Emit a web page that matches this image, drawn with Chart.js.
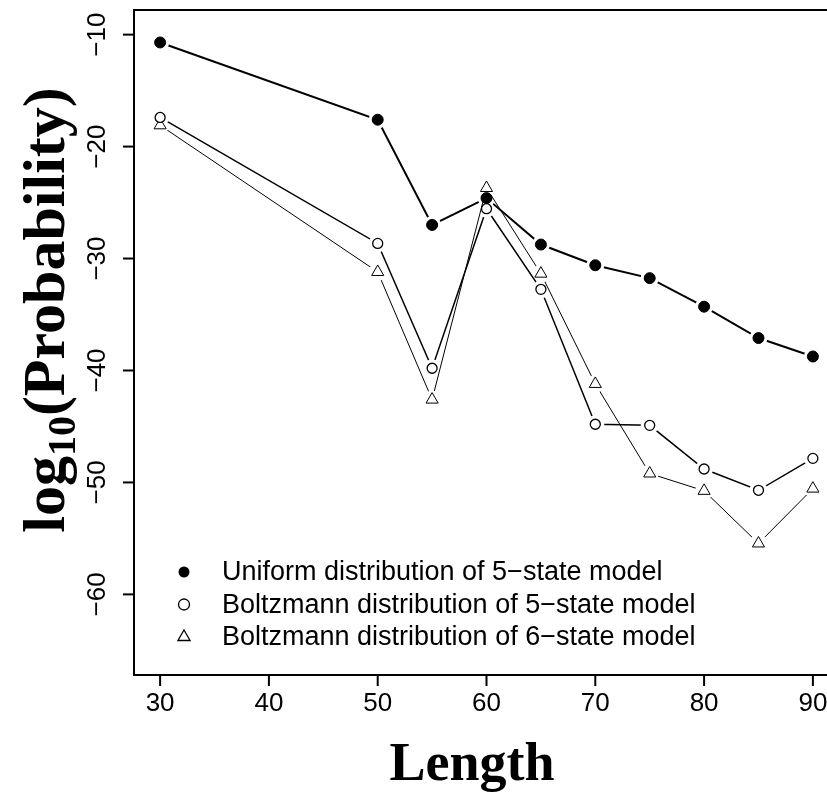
<!DOCTYPE html>
<html>
<head>
<meta charset="utf-8">
<title>log10(Probability) vs Length</title>
<script src="https://cdn.jsdelivr.net/npm/chart.js@4/dist/chart.umd.min.js"></script>
<style>
    html, body { margin: 0; padding: 0; background: #fff; overflow: hidden; }
    #chartWrap { width: 827px; height: 792px; overflow: hidden; position: relative; }
    #probChart { position: absolute; left: 0; top: 0; }
</style>
</head>
<body>
<div id="chartWrap"><canvas id="probChart" width="850" height="792"></canvas></div>
<script>
// Datos
const lengths = [30, 50, 55, 60, 65, 70, 75, 80, 85, 90];
const uniform5 = [-10.7, -17.6, -27.0, -24.6, -28.75, -30.6, -31.75, -34.3, -37.1, -38.75];
const boltzmann5 = [-17.4, -28.65, -39.8, -25.55, -32.75, -44.8, -44.9, -48.8, -50.7, -47.85];
const boltzmann6 = [-18.1, -31.2, -42.6, -23.7, -31.35, -41.2, -49.2, -50.75, -55.45, -50.55];

const xTicks = [30, 40, 50, 60, 70, 80, 90];
const yTicks = [-10, -20, -30, -40, -50, -60];
const legendLabels = [
    'Uniform distribution of 5\u2212state model',
    'Boltzmann distribution of 5\u2212state model',
    'Boltzmann distribution of 6\u2212state model'
];

const sansFont = '"Liberation Sans", Arial, sans-serif';
const serifFont = '"Liberation Serif", "Times New Roman", serif';

function toPoints(values) {
    return lengths.map((x, i) => ({ x: x, y: values[i] }));
}

// Línea con huecos alrededor de cada punto (estilo type="b")
function lineSet(values, width) {
    return {
        data: toPoints(values),
        borderColor: '#000',
        borderWidth: width,
        pointRadius: 0,
        tension: 0,
        fill: false,
        gapRadius: 9,
        order: 2
    };
}

function pointSet(values, style, radius, fillColor, borderWidth) {
    return {
        data: toPoints(values),
        showLine: false,
        pointStyle: style,
        pointRadius: radius,
        pointBackgroundColor: fillColor,
        pointBorderColor: '#000',
        pointBorderWidth: borderWidth,
        order: 1
    };
}

// Recorta la línea alrededor de sus propios puntos
const gapPlugin = {
    id: 'gapPlugin',
    beforeDatasetDraw(chart, args) {
        const ds = chart.data.datasets[args.index];
        if (!ds.gapRadius) return;
        const ctx = chart.ctx;
        const r = ds.gapRadius;
        ctx.save();
        ctx.beginPath();
        ctx.rect(0, 0, chart.width, chart.height);
        args.meta.data.forEach(pt => {
            ctx.moveTo(pt.x + r, pt.y);
            ctx.arc(pt.x, pt.y, r, 0, Math.PI * 2);
        });
        ctx.clip('evenodd');
    },
    afterDatasetDraw(chart, args) {
        const ds = chart.data.datasets[args.index];
        if (!ds.gapRadius) return;
        chart.ctx.restore();
    }
};

// Ejes, marco, títulos y leyenda al estilo de R
const axesPlugin = {
    id: 'axesPlugin',
    afterDraw(chart) {
        const ctx = chart.ctx;
        const area = chart.chartArea;
        const xs = chart.scales.x;
        const ys = chart.scales.y;

        ctx.save();
        ctx.strokeStyle = '#000';
        ctx.fillStyle = '#000';
        ctx.lineWidth = 2;
        // Marco (el lado derecho queda fuera de la imagen)
        ctx.beginPath();
        ctx.moveTo(chart.width, area.top);
        ctx.lineTo(area.left, area.top);
        ctx.lineTo(area.left, area.bottom);
        ctx.lineTo(chart.width, area.bottom);
        ctx.stroke();

        // Eje X
        ctx.font = '26px ' + sansFont;
        ctx.textAlign = 'center';
        ctx.textBaseline = 'middle';
        xTicks.forEach(v => {
            const px = xs.getPixelForValue(v);
            ctx.beginPath();
            ctx.moveTo(px, area.bottom);
            ctx.lineTo(px, area.bottom + 11);
            ctx.stroke();
            ctx.fillText(String(v), px, area.bottom + 29);
        });

        // Eje Y (etiquetas giradas)
        yTicks.forEach(v => {
            const py = ys.getPixelForValue(v);
            ctx.beginPath();
            ctx.moveTo(area.left, py);
            ctx.lineTo(area.left - 11, py);
            ctx.stroke();
            ctx.save();
            ctx.translate(area.left - 36, py);
            ctx.rotate(-Math.PI / 2);
            ctx.fillText(String(v).replace('-', '\u2212'), 0, 0);
            ctx.restore();
        });

        // Título eje X
        ctx.font = 'bold 54px ' + serifFont;
        ctx.textBaseline = 'alphabetic';
        ctx.fillText('Length', 472, 780);

        // Título eje Y: log10(Probability)
        const bigFont = 'bold 60px ' + serifFont;
        const subFont = 'bold 40px ' + serifFont;
        ctx.font = bigFont;
        const wLog = ctx.measureText('log').width;
        const wRest = ctx.measureText('(Probability)').width;
        ctx.font = subFont;
        const wSub = ctx.measureText('10').width;
        const total = wLog + wSub + wRest;
        ctx.save();
        ctx.translate(64, 310 + total / 2);
        ctx.rotate(-Math.PI / 2);
        ctx.textAlign = 'left';
        ctx.font = bigFont;
        ctx.fillText('log', 0, 0);
        ctx.font = subFont;
        ctx.fillText('10', wLog, 11);
        ctx.font = bigFont;
        ctx.fillText('(Probability)', wLog + wSub, 0);
        ctx.restore();

        // Leyenda
        const rows = [572, 604.5, 637];
        const mx = 184;
        ctx.font = '27px ' + sansFont;
        ctx.textAlign = 'left';
        ctx.textBaseline = 'middle';
        rows.forEach((ry, i) => {
            ctx.lineWidth = 1.3;
            ctx.beginPath();
            if (i === 0) {
                ctx.arc(mx, ry, 5.5, 0, Math.PI * 2);
                ctx.fill();
            } else if (i === 1) {
                ctx.arc(mx, ry, 5.5, 0, Math.PI * 2);
                ctx.stroke();
            } else {
                const r = 7;
                ctx.moveTo(mx, ry - r);
                ctx.lineTo(mx + r * Math.sin(Math.PI * 2 / 3), ry + r / 2);
                ctx.lineTo(mx - r * Math.sin(Math.PI * 2 / 3), ry + r / 2);
                ctx.closePath();
                ctx.stroke();
            }
            ctx.fillText(legendLabels[i], 222, ry + 1);
        });
        ctx.restore();
    }
};

document.addEventListener('DOMContentLoaded', function() {
    const ctx = document.getElementById('probChart').getContext('2d');
    new Chart(ctx, {
        type: 'line',
        data: {
            datasets: [
                pointSet(uniform5, 'circle', 5.5, '#000', 1),
                pointSet(boltzmann5, 'circle', 5, '#fff', 1.3),
                pointSet(boltzmann6, 'triangle', 7, 'rgba(0,0,0,0)', 1),
                lineSet(uniform5, 2),
                lineSet(boltzmann5, 1.5),
                lineSet(boltzmann6, 1)
            ]
        },
        options: {
            responsive: false,
            animation: false,
            devicePixelRatio: 1,
            layout: {
                padding: { left: 134, top: 10, right: 11, bottom: 117 }
            },
            plugins: {
                legend: { display: false },
                tooltip: { enabled: false }
            },
            scales: {
                x: { type: 'linear', min: 27.6, max: 92.4, display: false },
                y: { type: 'linear', min: -67.2, max: -7.8, display: false }
            }
        },
        plugins: [gapPlugin, axesPlugin]
    });
});
</script>
</body>
</html>
